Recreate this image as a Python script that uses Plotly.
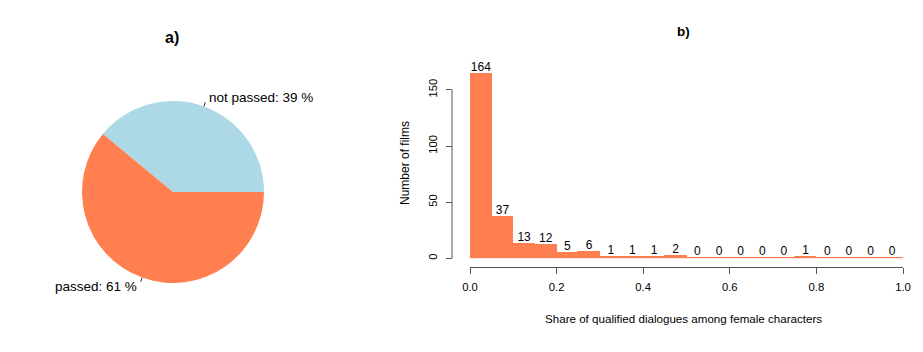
import math
import plotly.graph_objects as go

# ---------------- data ----------------
pie_labels = ["not passed", "passed"]
pie_values = [39, 61]
pie_colors = ["#ADD8E6", "#FF7F50"]

bin_left = [0.00, 0.05, 0.10, 0.15, 0.20, 0.25, 0.30, 0.35, 0.40, 0.45,
            0.50, 0.55, 0.60, 0.65, 0.70, 0.75, 0.80, 0.85, 0.90, 0.95]
bin_width = 0.05
counts = [164, 37, 13, 12, 5, 6, 1, 1, 1, 2, 0, 0, 0, 0, 0, 1, 0, 0, 0, 0]
x_ticks = [0.0, 0.2, 0.4, 0.6, 0.8, 1.0]
x_tick_labels = ["0.0", "0.2", "0.4", "0.6", "0.8", "1.0"]
y_ticks = [0, 50, 100, 150]
y_tick_labels = ["0", "50", "100", "150"]

title_a = "a)"
title_b = "b)"
x_title = "Share of qualified dialogues among female characters"
y_title = "Number of films"

# ---------------- layout constants ----------------
W, H = 923, 352
FONT = "Arial, 'Liberation Sans', sans-serif"
AX = "#555555"
BAR = "#FF7F50"

def px(x):
    return x / W

def py(y):
    return 1 - y / H

# pie geometry (pixels)
pcx, pcy, pr = 173, 192, 91

# histogram geometry (pixels)
x0_px, x1_px = 470, 903
y0_px = 258.3
ppu = 1.123           # pixels per count
ytop_px = 50
xaxis_px = 266.7
yaxis_px = 452

fig = go.Figure()

# R-style pie: first slice starts at 3 o'clock and runs counterclockwise.
# Plotly's counterclockwise pie puts the first slice clockwise of `rotation`,
# so rotate back by the first slice's angle.
total = sum(pie_values)
rot = 90 - 360 * pie_values[0] / total

fig.add_trace(go.Pie(
    labels=pie_labels, values=pie_values, sort=False,
    direction="counterclockwise", rotation=rot,
    marker=dict(colors=pie_colors, line=dict(width=0)),
    textinfo="none", showlegend=False,
    domain=dict(x=[px(pcx - pr), px(pcx + pr)], y=[py(pcy + pr), py(pcy - pr)]),
))

centers = [b + bin_width / 2 for b in bin_left]
fig.add_trace(go.Bar(
    x=centers, y=counts, width=[bin_width] * len(counts),
    marker=dict(color=BAR, line=dict(color=BAR, width=1)),
    showlegend=False, xaxis="x", yaxis="y",
))
# baseline for empty bins (R draws bar borders)
fig.add_trace(go.Scatter(
    x=[bin_left[0], bin_left[-1] + bin_width], y=[0, 0], mode="lines",
    line=dict(color=BAR, width=1), showlegend=False, hoverinfo="skip",
))
fig.add_trace(go.Scatter(
    x=centers, y=counts, mode="text", text=[str(c) for c in counts],
    textposition="top center", textfont=dict(family=FONT, size=12, color="black"),
    showlegend=False, hoverinfo="skip", cliponaxis=False,
))

ymax = (y0_px - ytop_px) / ppu

annotations = []
shapes = []

# pie labels and tick lines
cum = 0
for lab, val in zip(pie_labels, pie_values):
    mid = (cum + val / 2) / total * 2 * math.pi
    cum += val
    c, s = math.cos(mid), math.sin(mid)
    lx, ly = pcx + 1.1 * pr * c, pcy - 1.1 * pr * s
    annotations.append(dict(
        x=px(lx), y=py(ly), xref="paper", yref="paper",
        text=f"{lab}: {val} %", showarrow=False,
        xanchor="left" if c > 0 else "right", yanchor="middle",
        font=dict(family=FONT, size=13.5, color="black"),
    ))
    shapes.append(dict(
        type="line", xref="paper", yref="paper",
        x0=px(pcx + pr * c), y0=py(pcy - pr * s),
        x1=px(pcx + 1.05 * pr * c), y1=py(pcy - 1.05 * pr * s),
        line=dict(color="#333333", width=1),
    ))

annotations += [
    dict(x=px(172), y=py(37), xref="paper", yref="paper", text=f"<b>{title_a}</b>",
         showarrow=False, xanchor="center", yanchor="middle",
         font=dict(family=FONT, size=16, color="black")),
    dict(x=px(683), y=py(31), xref="paper", yref="paper", text=f"<b>{title_b}</b>",
         showarrow=False, xanchor="center", yanchor="middle",
         font=dict(family=FONT, size=13.5, color="black")),
    dict(x=px(683), y=py(318), xref="paper", yref="paper", text=x_title,
         showarrow=False, xanchor="center", yanchor="middle",
         font=dict(family=FONT, size=11.6, color="black")),
    dict(x=px(405), y=py(163), xref="paper", yref="paper", text=y_title,
         showarrow=False, xanchor="center", yanchor="middle", textangle=-90,
         font=dict(family=FONT, size=12, color="black")),
]

# y axis line from first to last tick
shapes.append(dict(
    type="line", xref="paper", yref="y",
    x0=px(yaxis_px), x1=px(yaxis_px), y0=y_ticks[0], y1=y_ticks[-1],
    line=dict(color=AX, width=1),
))

fig.update_layout(
    width=W, height=H, autosize=False,
    margin=dict(l=0, r=0, t=0, b=0),
    paper_bgcolor="white", plot_bgcolor="rgba(0,0,0,0)",
    bargap=0,
    xaxis=dict(
        domain=[px(x0_px), px(x1_px)], range=[0, 1],
        anchor="free", position=py(xaxis_px),
        showline=True, linecolor=AX, linewidth=1,
        ticks="outside", ticklen=6, tickcolor=AX, tickwidth=1,
        tickvals=x_ticks, ticktext=x_tick_labels,
        tickfont=dict(family=FONT, size=11.3, color="black"),
        ticklabelstandoff=4,
        showgrid=False, zeroline=False, automargin=False, fixedrange=True,
    ),
    yaxis=dict(
        domain=[py(y0_px), py(ytop_px)], range=[0, ymax],
        anchor="free", position=px(yaxis_px),
        showline=False,
        ticks="outside", ticklen=6, tickcolor=AX, tickwidth=1,
        tickvals=y_ticks, ticktext=y_tick_labels, tickangle=-90,
        tickfont=dict(family=FONT, size=11.3, color="black"),
        ticklabelstandoff=4,
        showgrid=False, zeroline=False, automargin=False, fixedrange=True,
    ),
    annotations=annotations,
    shapes=shapes,
)

fig.write_html("out.html")
